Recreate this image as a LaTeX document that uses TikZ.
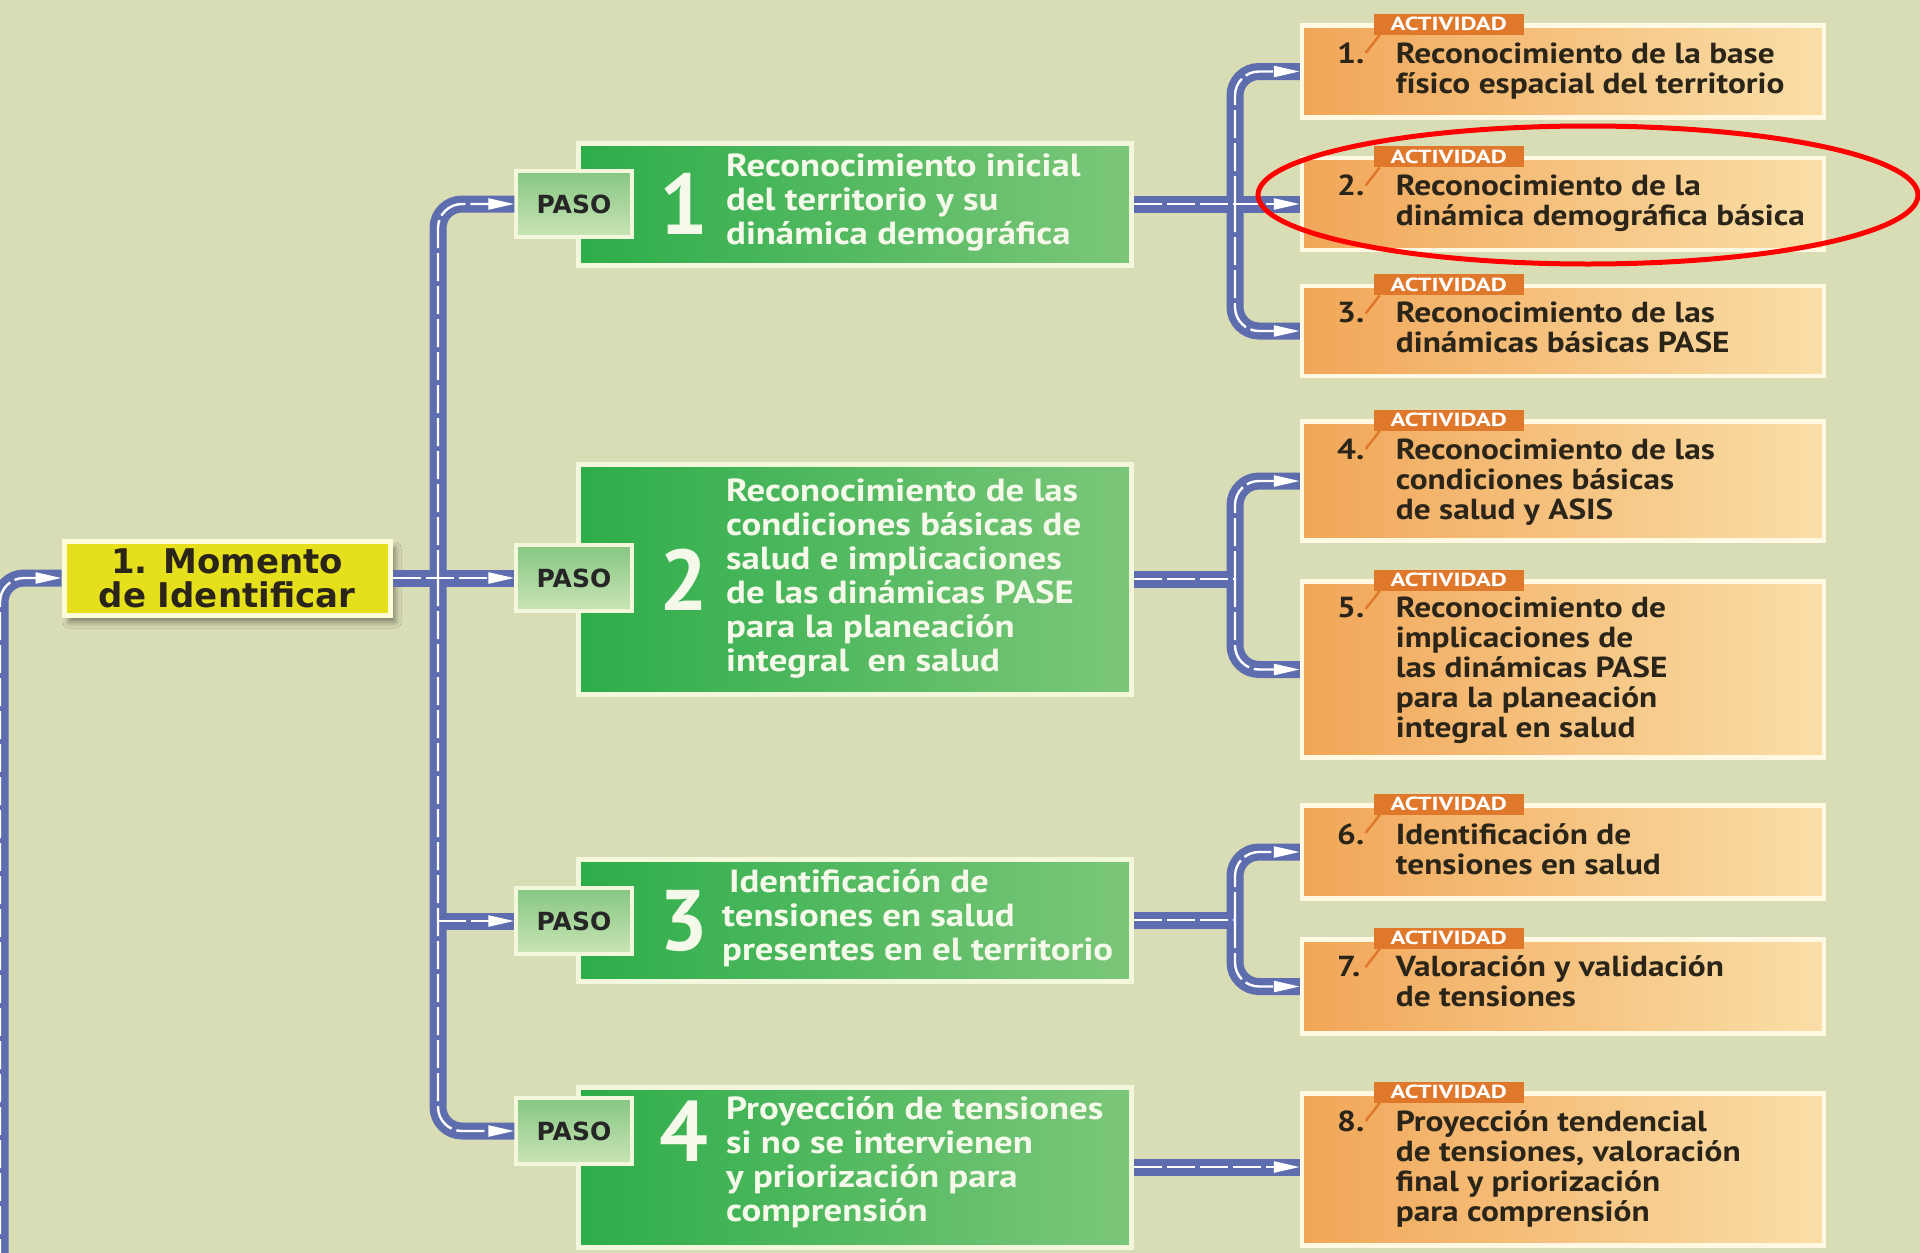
\documentclass[tikz,border=0pt]{standalone}
\usepackage{fontspec}
\setmainfont{PT Sans}
\newfontfamily\widefont{DejaVu Sans}
\usetikzlibrary{arrows.meta,shadows.blur,calc}
\definecolor{bgc}{HTML}{D9DDB6}
\definecolor{pipeblue}{HTML}{5E6DAE}
\definecolor{gdark}{HTML}{2DAD4A}
\definecolor{glight}{HTML}{7CC77A}
\definecolor{gborder}{HTML}{F3F8DC}
\definecolor{pasotop}{HTML}{86C782}
\definecolor{pasobot}{HTML}{CAE4B6}
\definecolor{oleft}{HTML}{F1A658}
\definecolor{oright}{HTML}{FADFA8}
\definecolor{oborder}{HTML}{FFF8E2}
\definecolor{tagc}{HTML}{E0782C}
\definecolor{yfill}{HTML}{E6E01C}
\definecolor{yborder}{HTML}{FFFCD8}
\definecolor{darktext}{HTML}{2A2518}
\definecolor{gtextc}{HTML}{F5F9EA}
\tikzset{
  bluepipe/.style={draw=pipeblue, line width=17pt, rounded corners=24pt},
  core/.style={draw=white, line width=2.4pt, rounded corners=24pt, dash pattern=on 28pt off 5pt},
  corearrow/.style={core, -{Triangle[length=26pt,width=11pt]}},
  greenbox/.style={draw=gborder, line width=5pt, left color=gdark, right color=glight, inner sep=0pt, minimum width=553pt},
  pasobox/.style={draw=gborder, line width=3.5pt, top color=pasotop, bottom color=pasobot, inner sep=0pt, minimum width=116pt, minimum height=66pt, font=\widefont\fontsize{25}{27}\selectfont\bfseries, text=black!85},
  bignum/.style={text=gtextc, font=\fontsize{86}{86}\selectfont\bfseries, inner sep=0pt},
  gtext/.style={text=gtextc, font=\fontsize{32}{34}\selectfont\bfseries, inner sep=0pt, anchor=west},
  actbox/.style={draw=oborder, line width=4.5pt, left color=oleft, right color=oright, inner sep=0pt, minimum width=522pt},
  tagbox/.style={fill=tagc, inner sep=0pt, minimum width=150pt, minimum height=21pt, text=white, font=\fontsize{19}{19}\selectfont\bfseries},
  atext/.style={text=darktext, font=\fontsize{29}{30}\selectfont\bfseries, inner sep=0pt, anchor=west},
}
\newcommand\gtxt[1]{\scalebox{1.15}[1]{\begin{tabular}{@{}l@{}}#1\end{tabular}}}
\newcommand\atxt[2]{\scalebox{1.15}[1]{\begin{tabular}{@{}p{51pt}@{}l@{}}#1&#2\end{tabular}}}
\newcommand\tagfor[2]{%
  \node[tagbox] (#2) at ($(#1.north west)+(149,1)$) {\scalebox{1.3}[1]{ACTIVIDAD}};
  \draw[tagc, line width=2.5pt] ($(#2.south west)+(6,0)$) .. controls ($(#2.south west)+(0,8)$) .. ($(#2.south west)+(-8,18)$);
}
\newcommand\drawpipes[2]{%
  % left incoming
  \draw[#1] (0,1300) |- (mom.west);
  % trunk
  \draw[#1] (mom.east) -- (mom.east -| p2.west);
  \draw[#1] (jl) |- (p1.west);
  \draw[#1] (jl) |- (p4.west);
  \draw[#1] (jl |- p3.west) -- (p3.west);
  % group 1
  \draw[#1] (g1.east) -- (g1.east -| a2.west);
  \draw[#1] (j1) |- (a1.west);
  \draw[#1] (j1) |- (a3.west);
  % group 2
  \draw[#2] (g2.east) -- (j2);
  \draw[#1] (j2) |- (a4.west);
  \draw[#1] (j2) |- (a5.west);
  % group 3
  \draw[#2] (g3.east) -- (j3);
  \draw[#1] (j3) |- (a6.west);
  \draw[#1] (j3) |- (a7.west);
  % group 4
  \draw[#1] (g4.east) -- (g4.east -| a8.west);
}
\begin{document}
\begin{tikzpicture}[x=1pt,y=-1pt]
\useasboundingbox (0,0) rectangle (1920,1253);
\clip (0,0) rectangle (1920,1253);
\fill[bgc] (0,0) rectangle (1920,1253);

% Momento box
\node[draw=yborder, line width=5pt, fill=yfill, inner sep=0pt, minimum width=326pt, minimum height=74pt,
      blur shadow={shadow xshift=5pt, shadow yshift=-7pt, shadow opacity=45, shadow blur radius=6pt},
      align=center, text=darktext, font=\widefont\fontsize{34}{34}\selectfont\bfseries] (mom) at (227,578) {1. Momento\\de Identificar};

% green boxes
\node[greenbox, minimum height=122pt] (g1) at (855,204) {};
\node[greenbox, minimum height=230pt] (g2) at (855,579) {};
\node[greenbox, minimum height=122pt] (g3) at (855,920) {};
\node[greenbox, minimum height=160pt] (g4) at (855,1167) {};

% paso boxes
\node[pasobox] (p1) at (574,204) {PASO};
\node[pasobox] (p2) at (574,578) {PASO};
\node[pasobox] (p3) at (574,921) {PASO};
\node[pasobox] (p4) at (574,1131) {PASO};

% big numbers
\node[bignum] (n1) at (684,204) {1};
\node[bignum] (n2) at (684,580) {2};
\node[bignum] (n3) at (684,921) {3};
\node[bignum] (n4) at (684,1131) {4};

% green texts
\node[gtext] (t1) at (726,204) {\gtxt{Reconocimiento inicial\\del territorio y su\\dinámica demográfica}};
\node[gtext] (t2) at (726,580) {\gtxt{Reconocimiento de las\\condiciones básicas de\\salud e implicaciones\\de las dinámicas PASE\\para la planeación\\integral \ en salud}};
\node[gtext] (t3) at (722,920) {\gtxt{\hspace*{6pt}Identificación de\\tensiones en salud\\presentes en el territorio}};
\node[gtext] (t4) at (726,1164) {\gtxt{Proyección de tensiones\\si no se intervienen\\y priorización para\\comprensión}};

% activity boxes
\node[actbox, minimum height=92pt] (a1) at (1563,71.5) {};
\node[actbox, minimum height=92pt] (a2) at (1563,204) {};
\node[actbox, minimum height=90pt] (a3) at (1563,331) {};
\node[actbox, minimum height=119pt] (a4) at (1563,481) {};
\node[actbox, minimum height=176pt] (a5) at (1563,669.5) {};
\node[actbox, minimum height=93pt] (a6) at (1563,852) {};
\node[actbox, minimum height=94pt] (a7) at (1563,986.5) {};
\node[actbox, minimum height=152pt] (a8) at (1563,1169.5) {};

\tagfor{a1}{k1}
\tagfor{a2}{k2}
\tagfor{a3}{k3}
\tagfor{a4}{k4}
\tagfor{a5}{k5}
\tagfor{a6}{k6}
\tagfor{a7}{k7}
\tagfor{a8}{k8}

% activity texts
\node[atext] (s1) at (1337,72) {\atxt{1.}{Reconocimiento de la base\\&físico espacial del territorio}};
\node[atext] (s2) at (1337,204) {\atxt{2.}{Reconocimiento de la\\&dinámica demográfica básica}};
\node[atext] (s3) at (1337,331) {\atxt{3.}{Reconocimiento de las\\&dinámicas básicas PASE}};
\node[atext] (s4) at (1337,483) {\atxt{4.}{Reconocimiento de las\\&condiciones básicas\\&de salud y ASIS}};
\node[atext] (s5) at (1337,671) {\atxt{5.}{Reconocimiento de\\&implicaciones de\\&las dinámicas PASE\\&para la planeación\\&integral en salud}};
\node[atext] (s6) at (1337,853) {\atxt{6.}{Identificación de\\&tensiones en salud}};
\node[atext] (s7) at (1337,985) {\atxt{7.}{Valoración y validación\\&de tensiones}};
\node[atext] (s8) at (1337,1170) {\atxt{8.}{Proyección tendencial\\&de tensiones, valoración\\&final y priorización\\&para comprensión}};

% junctions
\coordinate (jl) at (438,578);
\coordinate (j1) at (1235,204);
\coordinate (j2) at (1235,579);
\coordinate (j3) at (1235,920);

\drawpipes{bluepipe}{bluepipe}
\drawpipes{corearrow}{core}

% red ellipse
\draw[red, line width=5pt] (1588,195) ellipse [x radius=330, y radius=69];
\end{tikzpicture}
\end{document}
